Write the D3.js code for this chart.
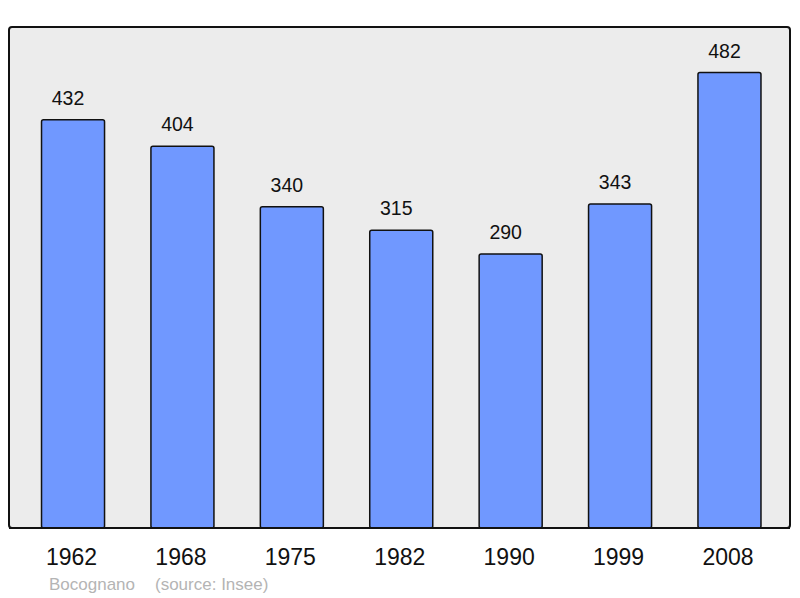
<!DOCTYPE html>
<html>
<head>
<script src="https://d3js.org/d3.v7.min.js"></script>
<style>
  body { margin: 0; background: #fff; }
  svg { display: block; font-family: "Liberation Sans", Arial, sans-serif; }
</style>
</head>
<body>
<script>
  // données
  const years = ["1962", "1968", "1975", "1982", "1990", "1999", "2008"];
  const population = [432, 404, 340, 315, 290, 343, 482];
  const commune = "Bocognano";
  const source = "(source: Insee)";

  const width = 800, height = 598;
  const panel = { x0: 9, y0: 27, x1: 790, y1: 528 };

  const svg = d3.select("body").append("svg")
    .attr("width", width)
    .attr("height", height);

  // fond du graphique
  svg.append("rect")
    .attr("x", panel.x0).attr("y", panel.y0)
    .attr("width", panel.x1 - panel.x0)
    .attr("height", panel.y1 - panel.y0)
    .attr("rx", 3)
    .attr("fill", "#ececec")
    .attr("stroke", "#111")
    .attr("stroke-width", 2);

  const x = d3.scaleBand()
    .domain(years)
    .range([8.7, 793.8])
    .paddingInner(0.424)
    .paddingOuter(0.3);

  const y = d3.scaleLinear()
    .domain([0, d3.max(population) * 1.1])
    .range([panel.y1, panel.y0]);

  const data = years.map((yr, i) => ({ year: yr, value: population[i] }));

  svg.selectAll("rect.bar")
    .data(data)
    .join("rect")
    .attr("class", "bar")
    .attr("x", d => x(d.year))
    .attr("y", d => y(d.value))
    .attr("width", x.bandwidth())
    .attr("height", d => panel.y1 - y(d.value))
    .attr("rx", 2)
    .attr("fill", "#7098ff")
    .attr("stroke", "#111")
    .attr("stroke-width", 1.5);

  // ligne de base au-dessus des barres
  svg.append("line")
    .attr("x1", panel.x0).attr("x2", panel.x1)
    .attr("y1", panel.y1).attr("y2", panel.y1)
    .attr("stroke", "#111")
    .attr("stroke-width", 2);

  svg.selectAll("text.val")
    .data(data)
    .join("text")
    .attr("class", "val")
    .attr("x", d => x(d.year) + x.bandwidth() / 2 - 5)
    .attr("y", d => y(d.value) - 15)
    .attr("text-anchor", "middle")
    .attr("font-size", 19.5)
    .attr("fill", "#111")
    .text(d => d.value);

  svg.selectAll("text.year")
    .data(data)
    .join("text")
    .attr("class", "year")
    .attr("x", d => x(d.year) + x.bandwidth() / 2 - 1.5)
    .attr("y", 565)
    .attr("text-anchor", "middle")
    .attr("font-size", 23)
    .attr("fill", "#111")
    .text(d => d.year);

  svg.append("text")
    .attr("x", 49).attr("y", 590)
    .attr("font-size", 17)
    .attr("fill", "#b4b4b4")
    .text(commune);

  svg.append("text")
    .attr("x", 155).attr("y", 590)
    .attr("font-size", 17)
    .attr("fill", "#b4b4b4")
    .text(source);
</script>
</body>
</html>
